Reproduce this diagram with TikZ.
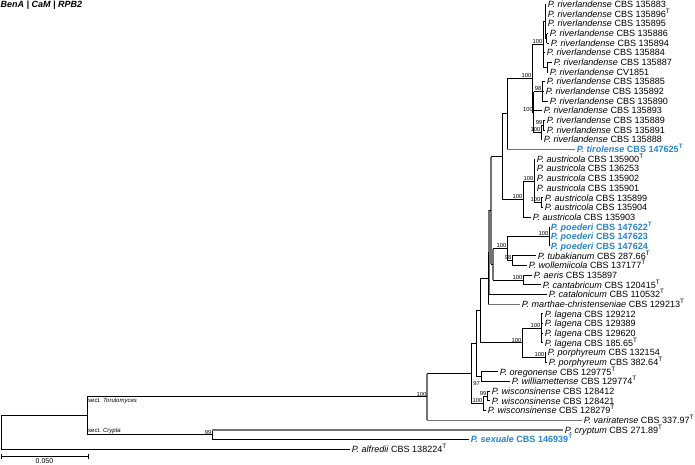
\documentclass[tikz,border=0pt]{standalone}
\usepackage{fontspec}
\setmainfont{Liberation Sans}
\usetikzlibrary{calc}
\definecolor{hl}{RGB}{40,132,205}
\definecolor{gbr}{RGB}{115,115,115}
\newcommand{\leaf}[3]{\coordinate (t#1) at (#2,{4.5+(#1-1)*9.67}); \node[lab] (l#1) at (t#1) {#3};}
\newcommand{\mknode}[4]{\path let \p1=(#3), \p2=(#4) in coordinate (#1) at (#2pt,{0.5*\y1+0.5*\y2});}
\newcommand{\cladev}[4][br]{\draw[#1] (#2 |- #3) -- (#2 |- #4);}
\newcommand{\cladeh}[3][br]{\foreach \c in {#3}{\draw[#1] (#2 |- \c) -- (\c);}}
\newcommand{\bsup}[2]{\node[bsl] at (#1) {#2};}
\newcommand{\rv}{\textit{P. riverlandense} CBS }
\newcommand{\au}{\textit{P. austricola} CBS }
\tikzset{
  lab/.style={anchor=west, inner xsep=1.6pt, inner ysep=0pt, text height=6.4pt, text depth=1.8pt, yshift=-0.8pt, font=\fontsize{9.05}{10}\selectfont},
  hil/.style={lab, text=hl, font=\fontsize{9.05}{10}\selectfont\bfseries},
  bsl/.style={anchor=south east, inner sep=0.5pt, font=\fontsize{5.8}{6}\selectfont},
  br/.style={draw=black, line width=0.95pt},
  brg/.style={draw=gbr, line width=1.1pt},
}
\begin{document}
\begin{tikzpicture}[x=1pt,y=-1pt]
\useasboundingbox (0,0) rectangle (695,465);
\node[anchor=north west, inner sep=0pt, font=\fontsize{9}{10}\selectfont\bfseries\itshape] (title) at (0.5,0.5) {BenA | CaM | RPB2};
% leaves
\leaf{1}{546}{\rv 135883}
\leaf{2}{546}{\rv 135896\textsuperscript{T}}
\leaf{3}{546}{\rv 135895}
\leaf{4}{548}{\rv 135886}
\leaf{5}{549}{\rv 135894}
\leaf{6}{545}{\rv 135884}
\leaf{7}{552}{\rv 135887}
\leaf{8}{548}{\textit{P. riverlandense} CV1851}
\leaf{9}{545}{\rv 135885}
\leaf{10}{544}{\rv 135892}
\leaf{11}{548}{\rv 135890}
\leaf{12}{542}{\rv 135893}
\leaf{13}{545}{\rv 135889}
\leaf{14}{545}{\rv 135891}
\leaf{15}{542}{\rv 135888}
\coordinate (t16) at (575,{4.5+15*9.67}); \node[hil] (l16) at (t16) {\textit{P. tirolense} CBS 147625\textsuperscript{T}};
\leaf{17}{535}{\au 135900\textsuperscript{T}}
\leaf{18}{535}{\au 136253}
\leaf{19}{535}{\au 135902}
\leaf{20}{535}{\au 135901}
\leaf{21}{543}{\au 135899}
\leaf{22}{543}{\au 135904}
\leaf{23}{531}{\au 135903}
\coordinate (t24) at (549,{4.5+23*9.67}); \node[hil] (l24) at (t24) {\textit{P. poederi} CBS 147622\textsuperscript{T}};
\coordinate (t25) at (549,{4.5+24*9.67}); \node[hil] (l25) at (t25) {\textit{P. poederi} CBS 147623};
\coordinate (t26) at (549,{4.5+25*9.67}); \node[hil] (l26) at (t26) {\textit{P. poederi} CBS 147624};
\leaf{27}{536}{\textit{P. tubakianum} CBS 287.66\textsuperscript{T}}
\leaf{28}{527}{\textit{P. wollemiicola} CBS 137177\textsuperscript{T}}
\leaf{29}{532}{\textit{P. aeris} CBS 135897}
\leaf{30}{541}{\textit{P. cantabricum} CBS 120415\textsuperscript{T}}
\leaf{31}{547}{\textit{P. catalonicum} CBS 110532\textsuperscript{T}}
\leaf{32}{520}{\textit{P. marthae-christenseniae} CBS 129213\textsuperscript{T}}
\leaf{33}{543}{\textit{P. lagena} CBS 129212}
\leaf{34}{543}{\textit{P. lagena} CBS 129389}
\leaf{35}{543}{\textit{P. lagena} CBS 129620}
\leaf{36}{543}{\textit{P. lagena} CBS 185.65\textsuperscript{T}}
\leaf{37}{546}{\textit{P. porphyreum} CBS 132154}
\leaf{38}{547}{\textit{P. porphyreum} CBS 382.64\textsuperscript{T}}
\leaf{39}{498}{\textit{P. oregonense} CBS 129775\textsuperscript{T}}
\leaf{40}{510}{\textit{P. williamettense} CBS 129774\textsuperscript{T}}
\leaf{41}{490}{\textit{P. wisconsinense} CBS 128412}
\leaf{42}{490}{\textit{P. wisconsinense} CBS 128421}
\leaf{43}{486}{\textit{P. wisconsinense} CBS 128279\textsuperscript{T}}
\leaf{44}{582}{\textit{P. variratense} CBS 337.97\textsuperscript{T}}
\leaf{45}{563}{\textit{P. cryptum} CBS 271.89\textsuperscript{T}}
\coordinate (t46) at (469,{4.5+45*9.67}); \node[hil] (l46) at (t46) {\textit{P. sexuale} CBS 146939\textsuperscript{T}};
\leaf{47}{350}{\textit{P. alfredii} CBS 138224\textsuperscript{T}}
% internal nodes
\mknode{R1a4}{546.5}{t4}{t5}
\mknode{R1a}{545}{t1}{R1a4}
\mknode{R1b}{547}{t7}{t8}
\mknode{R1}{543}{R1a}{R1b}
\mknode{R2a}{542}{t9}{t11}
\mknode{R2b1}{543}{t13}{t14}
\mknode{R2b}{541}{R2b1}{t15}
\mknode{R2}{533.5}{R2a}{R2b}
\mknode{R}{532}{R1}{R2}
\mknode{RT}{507}{R}{t16}
\mknode{AU2}{541}{t21}{t22}
\mknode{AU1}{534}{t17}{AU2}
\mknode{AU}{523}{AU1}{t23}
\mknode{RTA}{502}{RT}{AU}
\mknode{PO}{549}{t24}{t26}
\mknode{TW}{512}{t27}{t28}
\mknode{PT}{507}{PO}{TW}
\mknode{AC}{523}{t29}{t30}
\mknode{PTAC}{493}{PT}{AC}
\mknode{G2}{491}{RTA}{PTAC}
\mknode{G1}{489}{G2}{t31}
\mknode{G}{488}{G1}{t32}
\mknode{L}{541}{t33}{t36}
\mknode{P}{545}{t37}{t38}
\mknode{LP}{522}{L}{P}
\mknode{Q}{480}{G}{LP}
\mknode{OW}{481}{t39}{t40}
\mknode{T2p}{476}{Q}{OW}
\mknode{W1}{487}{t41}{t42}
\mknode{W}{483}{W1}{t43}
\mknode{T2}{471}{T2p}{W}
\mknode{T1}{427}{T2}{t44}
\mknode{C}{212}{t45}{t46}
\mknode{A}{87}{T1}{C}
\mknode{root}{1}{A}{t47}
% branches
\cladev{R1a4}{t4}{t5} \cladeh{R1a4}{t4,t5}
\cladev{R1a}{t1}{R1a4} \cladeh{R1a}{t1,t2,t3,R1a4}
\cladev{R1b}{t7}{t8} \cladeh{R1b}{t7,t8}
\cladev{R1}{R1a}{R1b} \cladeh{R1}{R1a,t6,R1b}
\cladev{R2a}{t9}{t11} \cladeh{R2a}{t9,t10,t11}
\cladev{R2b1}{t13}{t14} \cladeh{R2b1}{t13,t14}
\cladev{R2b}{R2b1}{t15} \cladeh{R2b}{R2b1,t15}
\cladev{R2}{R2a}{R2b} \cladeh{R2}{R2a,t12,R2b}
\cladev{R}{R1}{R2} \cladeh{R}{R1,R2}
\cladev{RT}{R}{t16} \cladeh{RT}{R} \cladeh[brg]{RT}{t16}
\cladev{AU2}{t21}{t22} \cladeh{AU2}{t21,t22}
\cladev{AU1}{t17}{AU2} \cladeh{AU1}{t17,t18,t19,t20,AU2}
\cladev{AU}{AU1}{t23} \cladeh{AU}{AU1,t23}
\cladev{RTA}{RT}{AU} \cladeh{RTA}{RT,AU}
\cladev{PO}{t24}{t26}
\cladev{TW}{t27}{t28} \cladeh{TW}{t27,t28}
\cladev{PT}{PO}{TW} \cladeh{PT}{PO,TW}
\cladev{AC}{t29}{t30} \cladeh{AC}{t29,t30}
\cladev[brg]{PTAC}{PT}{AC} \cladeh{PTAC}{PT,AC}
\cladev[brg]{G2}{RTA}{PTAC} \cladeh{G2}{RTA,PTAC}
\cladev[brg]{G1}{G2}{t31} \cladeh{G1}{G2,t31}
\cladev{G}{G1}{t32} \cladeh{G}{G1} \cladeh[brg]{G}{t32}
\cladev{L}{t33}{t36} \cladeh{L}{t33,t34,t35,t36}
\cladev{P}{t37}{t38} \cladeh{P}{t37,t38}
\cladev{LP}{L}{P} \cladeh{LP}{L,P}
\cladev{Q}{G}{LP} \cladeh{Q}{G,LP}
\cladev{OW}{t39}{t40} \cladeh{OW}{t39,t40}
\cladev{T2p}{Q}{OW} \cladeh{T2p}{Q,OW}
\cladev{W1}{t41}{t42} \cladeh{W1}{t41,t42}
\cladev{W}{W1}{t43} \cladeh{W}{W1,t43}
\cladev{T2}{T2p}{W} \cladeh{T2}{T2p,W}
\cladev[brg]{T1}{T2}{t44} \cladeh{T1}{T2} \cladeh[brg]{T1}{t44}
\cladev{C}{t45}{t46} \cladeh[brg]{C}{t45} \cladeh{C}{t46}
\cladev{A}{T1}{C} \cladeh{A}{T1,C}
\cladev{root}{A}{t47} \cladeh{root}{A,t47}
% support values
\bsup{R1}{100}
\bsup{R2a}{98}
\bsup{R2b1}{99}
\bsup{R2b}{100}
\bsup{R2}{100}
\bsup{R}{100}
\bsup{AU2}{100}
\bsup{AU1}{100}
\bsup{AU}{100}
\bsup{PO}{100}
\bsup{TW}{98}
\bsup{PT}{100}
\bsup{AC}{100}
\bsup{L}{100}
\bsup{P}{100}
\bsup{LP}{100}
\node[font=\fontsize{5.8}{6}\selectfont, inner sep=0.5pt] (b97) at (476.5,383) {97};
\bsup{W1}{99}
\bsup{W}{100}
\bsup{T1}{100}
\bsup{C}{99}
% section labels
\node[anchor=north west, inner sep=1pt, font=\fontsize{6}{7}\selectfont] (sT) at (A |- T1) {sect. \textit{Torulomyces}};
\node[anchor=south west, inner sep=1pt, font=\fontsize{6}{7}\selectfont] (sC) at (A |- C) {sect. \textit{Crypta}};
% scale bar
\coordinate (sb1) at (1,456);
\coordinate (sb2) at (88,456);
\draw[br] (sb1) -- (sb2);
\draw[br] ($(sb1)+(0,-2.5)$) -- ($(sb1)+(0,2.5)$);
\draw[br] ($(sb2)+(0,-2.5)$) -- ($(sb2)+(0,2.5)$);
\node[font=\fontsize{7}{8}\selectfont, inner sep=0pt] (sbl) at (44.5,461.5) {0.050};
\end{tikzpicture}
\end{document}
